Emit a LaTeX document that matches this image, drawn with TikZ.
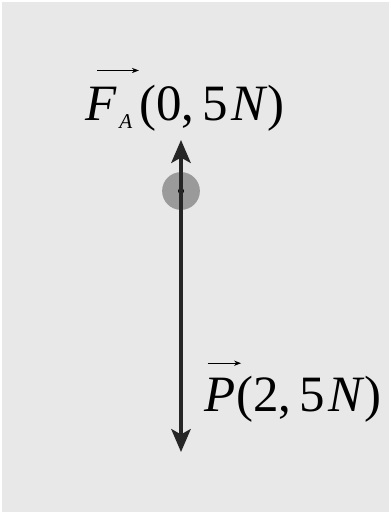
\documentclass[tikz,border=0pt]{standalone}
\usepackage{fontspec}
\setmainfont{Liberation Serif}
\usetikzlibrary{arrows.meta}
\begin{document}
\begin{tikzpicture}[x=0.02cm,y=-0.02cm,
		force/.style={line width=2.2pt, draw=black!85, -{Stealth[length=13pt,width=11pt,inset=3pt]}},
		vecarrow/.style={line width=0.5pt, -{Stealth[length=4pt,width=3pt]}},
		forcelabel/.style={inner sep=0pt, font=\fontsize{29}{32}\selectfont}]
		% Background
		\fill[white] (0,0) rectangle (391,514);
		\fill[black!9] (2,2) rectangle (389,512);
		\useasboundingbox (0,0) rectangle (391,514);
		
		% Body
		\node[circle, fill=black!47, opacity=0.8, minimum size=21.5pt, inner sep=0pt] (ball) at (181,191) {};
		\fill[black] (ball.center) circle (3);
		
		% Forces
		\coordinate (tipA) at (181,140);
		\coordinate (tipP) at (181,452);
		\draw[force] (ball.center) -- (tipA);
		\draw[force] (ball.center) -- (tipP);
		
		% Labels
		\node[forcelabel, anchor=base west] (symA) at (85,120)
			{\textit{F}\kern0.05em\raisebox{-0.35ex}{\fontsize{12}{12}\selectfont\textit{A}}\kern0.12em};
		\node[forcelabel, anchor=base west] (valA) at (symA.base east) {(0,\,5\kern0.06em\textit{N})};
		\node[forcelabel, anchor=base west] (symP) at (204,411) {\textit{P}};
		\node[forcelabel, anchor=base west] (valP) at (symP.base east) {(2,\,5\kern0.06em\textit{N})};
		\draw[vecarrow] ([xshift=7pt,yshift=9pt]symA.north west) -- ([yshift=9pt]symA.north east);
		\draw[vecarrow] ([xshift=2pt,yshift=8pt]symP.north west) -- ([xshift=3pt,yshift=8pt]symP.north east);
	\end{tikzpicture}
\end{document}
